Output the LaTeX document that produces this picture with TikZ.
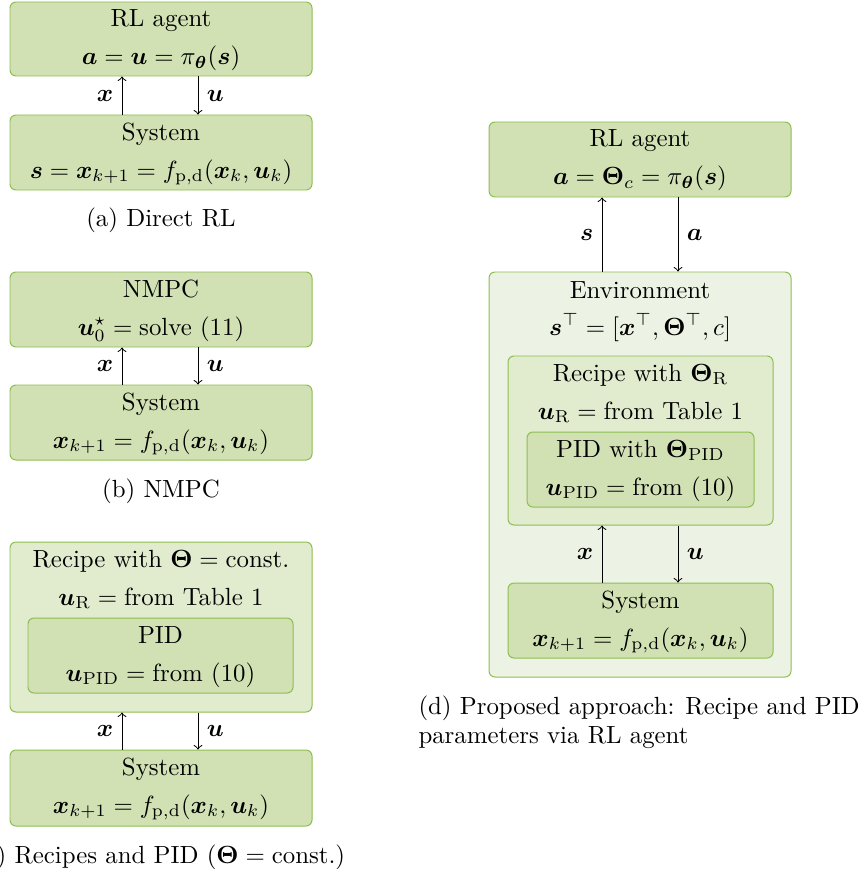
\documentclass[tikz,border=0pt]{standalone}
\usepackage{amsmath,amssymb,bm}
\definecolor{boxline}{RGB}{141,190,80}
\definecolor{boxfill}{RGB}{209,225,180}
\definecolor{boxfillb}{RGB}{225,235,206}
\definecolor{boxfillc}{RGB}{237,243,228}
\newdimen\pxu
\pxu=0.4026pt
\tikzset{
  blk/.style={draw=boxline, fill=boxfill, rounded corners=6\pxu, inner sep=0pt, line width=0.4pt},
  blkouter/.style={blk, fill=boxfillb},
  blkenv/.style={blk, fill=boxfillc},
  txt/.style={anchor=base, inner sep=0pt},
  sig/.style={->, line width=0.4pt},
}
\begin{document}
\begin{tikzpicture}[x=0.4026pt,y=0.4026pt,yscale=-1]
\useasboundingbox (0,0) rectangle (865,874);

%(a) direct RL
\node[blk, minimum width=302\pxu, minimum height=74\pxu] (agA) at (161,39) {};
\node[txt] (agAt) at (161,27) {RL agent};
\node[txt] (agAf) at (161,65) {$\bm{a}=\bm{u}=\pi_{\bm{\theta}}(\bm{s})$};
\node[blk, minimum width=302\pxu, minimum height=75\pxu] (sysA) at (161,152.5) {};
\node[txt] (sysAt) at (161,140) {System};
\node[txt] (sysAf) at (161,178) {$\bm{s}=\bm{x}_{k+1}=f_{\mathrm{p,d}}(\bm{x}_k,\bm{u}_k)$};
\coordinate (xa) at (122,0);
\coordinate (ua) at (198,0);
\draw[sig] (xa |- sysA.north) -- node[left] {$\bm{x}$} (xa |- agA.south);
\draw[sig] (ua |- agA.south) -- node[right] {$\bm{u}$} (ua |- sysA.north);
\node[txt] (capA) at (161,226) {(a) Direct RL};

%(b) NMPC
\node[blk, minimum width=302\pxu, minimum height=75\pxu] (nmpc) at (161,309.5) {};
\node[txt] (nmpct) at (161,297) {NMPC};
\node[txt] (nmpcf) at (161,335) {$\bm{u}_0^{\star}=\text{solve (11)}$};
\node[blk, minimum width=302\pxu, minimum height=75\pxu] (sysB) at (161,422.5) {};
\node[txt] (sysBt) at (161,410) {System};
\node[txt] (sysBf) at (161,448) {$\bm{x}_{k+1}=f_{\mathrm{p,d}}(\bm{x}_k,\bm{u}_k)$};
\draw[sig] (xa |- sysB.north) -- node[left] {$\bm{x}$} (xa |- nmpc.south);
\draw[sig] (ua |- nmpc.south) -- node[right] {$\bm{u}$} (ua |- sysB.north);
\node[txt] (capB) at (161,497) {(b) NMPC};

%(c) recipes and PID
\node[blkouter, minimum width=302\pxu, minimum height=170\pxu] (recC) at (161,627) {};
\node[txt] (recCt) at (161,567) {Recipe with $\bm{\Theta}=\text{const.}$};
\node[txt] (recCf) at (161,605) {$\bm{u}_{\mathrm{R}}=\text{from Table 1}$};
\node[blk, minimum width=265\pxu, minimum height=75\pxu] (pidC) at (160.5,655.5) {};
\node[txt] (pidCt) at (160.5,643) {PID};
\node[txt] (pidCf) at (160.5,681) {$\bm{u}_{\mathrm{PID}}=\text{from (10)}$};
\node[blk, minimum width=302\pxu, minimum height=76\pxu] (sysC) at (161,788) {};
\node[txt] (sysCt) at (161,775) {System};
\node[txt] (sysCf) at (161,813) {$\bm{x}_{k+1}=f_{\mathrm{p,d}}(\bm{x}_k,\bm{u}_k)$};
\draw[sig] (xa |- sysC.north) -- node[left] {$\bm{x}$} (xa |- recC.south);
\draw[sig] (ua |- recC.south) -- node[right] {$\bm{u}$} (ua |- sysC.north);
\node[txt] (capC) at (160.5,863) {(c) Recipes and PID ($\bm{\Theta}=\text{const.}$)};

%(d) proposed approach
\node[blk, minimum width=302\pxu, minimum height=75\pxu] (agD) at (640,159.5) {};
\node[txt] (agDt) at (640,147) {RL agent};
\node[txt] (agDf) at (640,185) {$\bm{a}=\bm{\Theta}_c=\pi_{\bm{\theta}}(\bm{s})$};
\node[blkenv, minimum width=302\pxu, minimum height=405\pxu] (env) at (640,474.5) {};
\node[txt] (envt) at (640,298) {Environment};
\node[txt] (envf) at (640,335) {$\bm{s}^{\top}=[\bm{x}^{\top},\bm{\Theta}^{\top},c]$};
\node[blkouter, minimum width=265\pxu, minimum height=169\pxu] (recD) at (640.5,440.5) {};
\node[txt] (recDt) at (640.5,381) {Recipe with $\bm{\Theta}_{\mathrm{R}}$};
\node[txt] (recDf) at (640.5,419) {$\bm{u}_{\mathrm{R}}=\text{from Table 1}$};
\node[blk, minimum width=227\pxu, minimum height=75\pxu] (pidD) at (640.5,469.5) {};
\node[txt] (pidDt) at (640.5,457) {PID with $\bm{\Theta}_{\mathrm{PID}}$};
\node[txt] (pidDf) at (640.5,495) {$\bm{u}_{\mathrm{PID}}=\text{from (10)}$};
\node[blk, minimum width=265\pxu, minimum height=75\pxu] (sysD) at (640.5,620.5) {};
\node[txt] (sysDt) at (640.5,608) {System};
\node[txt] (sysDf) at (640.5,646) {$\bm{x}_{k+1}=f_{\mathrm{p,d}}(\bm{x}_k,\bm{u}_k)$};
\coordinate (xd) at (602,0);
\coordinate (ud) at (678,0);
\draw[sig] (xd |- env.north) -- node[left] {$\bm{s}$} (xd |- agD.south);
\draw[sig] (ud |- agD.south) -- node[right] {$\bm{a}$} (ud |- env.north);
\draw[sig] (xd |- sysD.north) -- node[left] {$\bm{x}$} (xd |- recD.south);
\draw[sig] (ud |- recD.south) -- node[right] {$\bm{u}$} (ud |- sysD.north);
\node[txt, anchor=base west] (capD) at (418,714) {(d) Proposed approach: Recipe and PID};
\node[txt, anchor=base west] (capD2) at (418,743) {parameters via RL agent};
\end{tikzpicture}
\end{document}
